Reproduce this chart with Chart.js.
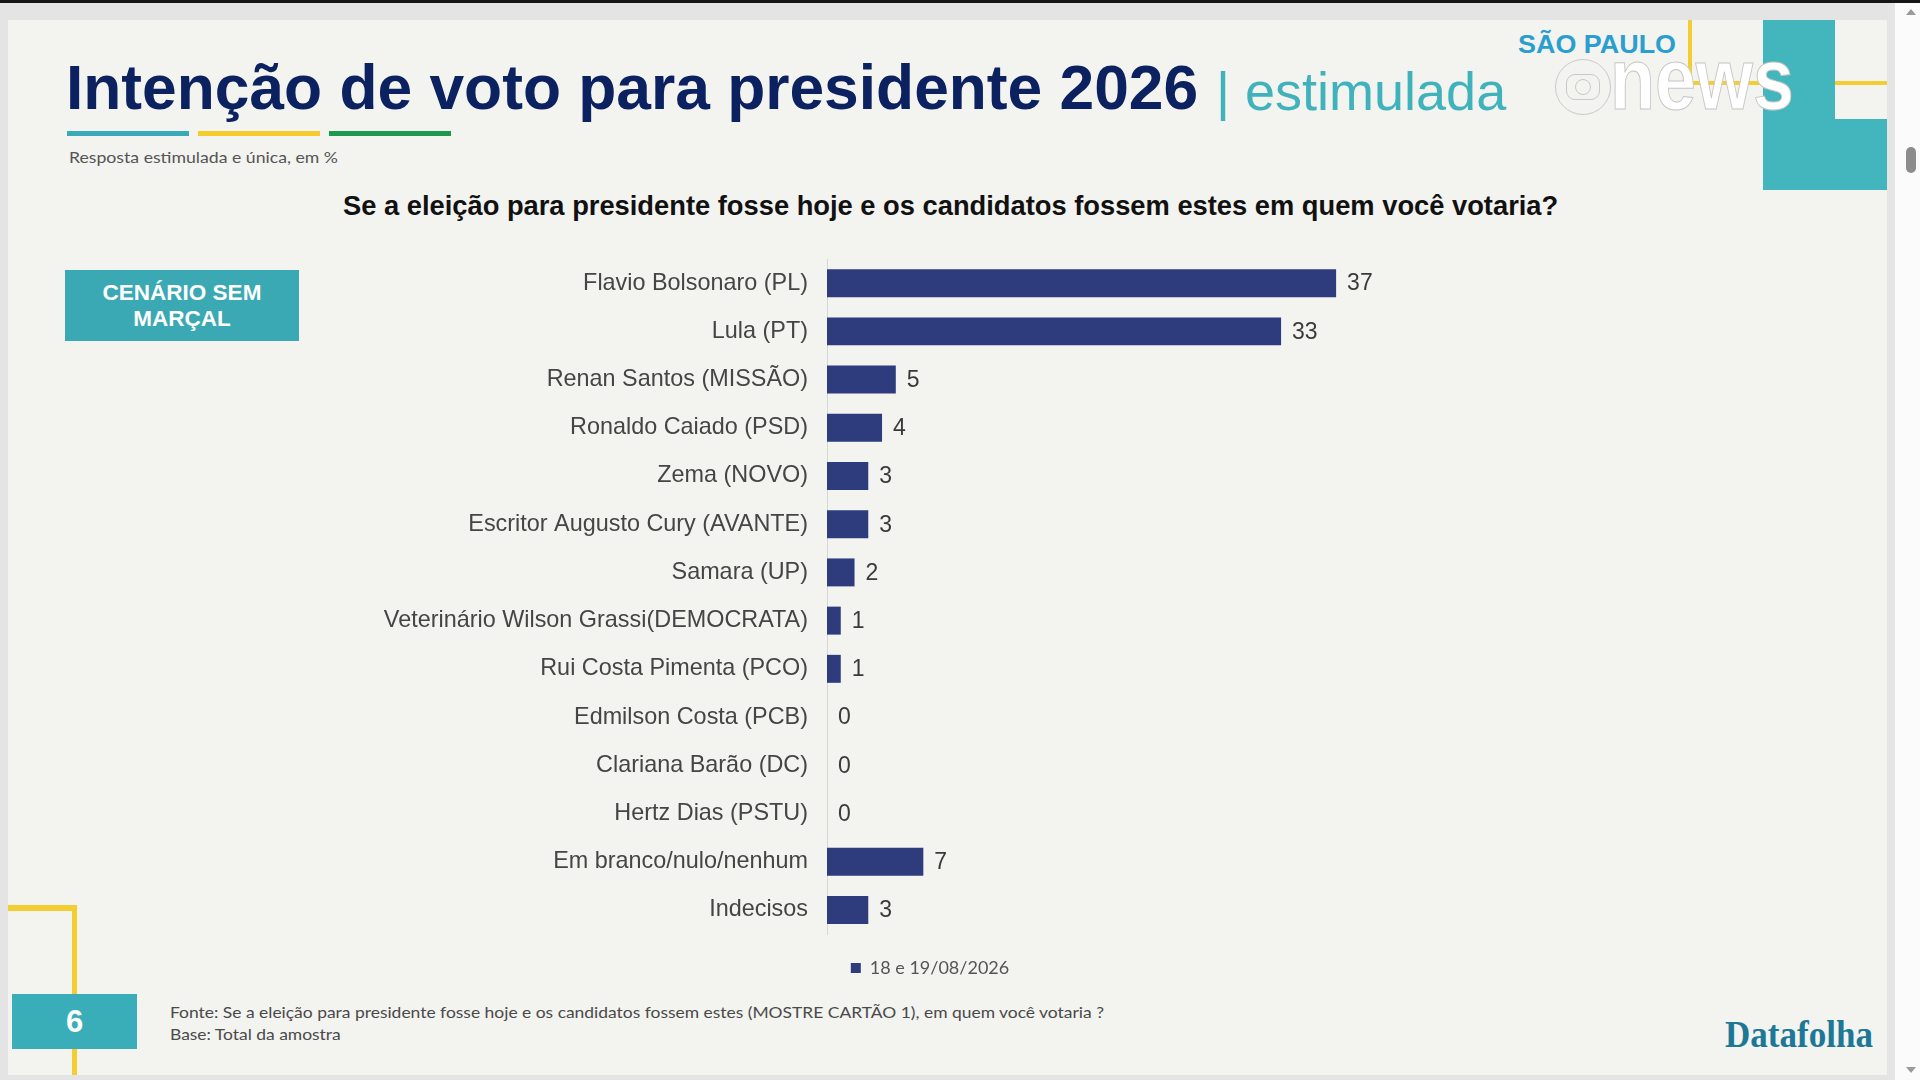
<!DOCTYPE html>
<html lang="pt-BR">
<head>
<meta charset="utf-8">
<title>Intenção de voto para presidente 2026 | estimulada</title>
<script src="https://cdn.jsdelivr.net/npm/chart.js@4.4.1/dist/chart.umd.min.js"></script>
<style>
  html, body { margin: 0; padding: 0; }
  body {
    width: 1920px; height: 1080px; position: relative; overflow: hidden;
    background: #e4e4e4;
    font-family: "Liberation Sans", Arial, sans-serif;
  }
  .abs { position: absolute; white-space: nowrap; }
  #topbar { left: 0; top: 0; width: 1920px; height: 3px; background: #151515; }
  #slide { left: 8px; top: 20px; width: 1879px; height: 1055px; background: #f3f3f0; }
  #scroll { left: 1895px; top: 3px; width: 25px; height: 1077px; background: #fbfbfb; }
  #thumb { left: 1906px; top: 147px; width: 10px; height: 26px; border-radius: 5px; background: #8c8c8c; }
  .arrow { width: 0; height: 0; border-left: 5px solid transparent; border-right: 5px solid transparent; }
  #up { left: 1906px; top: 9px; border-bottom: 6px solid #9a9a9a; }
  #down { left: 1906px; top: 1067px; border-top: 6px solid #9a9a9a; }

  #title { left: 66px; top: 57px; font-size: 62.3px; line-height: 62px; font-weight: bold; color: #0c2160; }
  #title2 { left: 1216px; top: 64px; font-size: 54px; line-height: 54px; color: #3fb2bc; }
  .stripe { top: 131px; width: 122px; height: 5px; }
  #subtitle { left: 69px; top: 148px; font-family: Lato, "Open Sans", sans-serif; font-size: 15px; line-height: 18px; color: #555; }
  #question { left: 343px; top: 192px; font-size: 27.3px; line-height: 27px; font-weight: bold; color: #111; }

  #scenario { left: 65px; top: 270px; width: 234px; height: 71px; background: #3aa9b3; color: #fff;
    font-weight: bold; font-size: 22.5px; line-height: 26px; text-align: center;
    display: flex; align-items: center; justify-content: center; }

  #saopaulo { left: 1518px; top: 32px; font-size: 25px; line-height: 25px; font-weight: bold; color: #2a9fcf; }
  #globe { left: 1555px; top: 59px; width: 56px; height: 56px; border-radius: 50%; border: 1px solid #c9c9c9; box-sizing: border-box; }
  #globe-rect { left: 1566px; top: 74px; width: 34px; height: 26px; border-radius: 9px; border: 1px solid #c9c9c9; box-sizing: border-box; }
  #globe-dot { left: 1575px; top: 79px; width: 16px; height: 16px; border-radius: 50%; border: 1px solid #c9c9c9; box-sizing: border-box; }
  #news { left: 1610px; top: 35px; font-size: 88px; line-height: 88px; font-weight: bold; color: #ffffff;
    -webkit-text-stroke: 1px #c6c6c6; }

  #chartbox { left: 345px; top: 234px; width: 1170px; height: 756px; }

  #footer1, #footer2 { left: 170px; font-family: Lato, "Open Sans", sans-serif; font-size: 15px; line-height: 18px; color: #4a4a4a; }
  #footer1 { top: 1003px; }
  #footer2 { top: 1025px; }
  #pagebox { left: 12px; top: 994px; width: 125px; height: 55px; background: #3aaeb8; color: #fff;
    font-weight: bold; font-size: 31px; line-height: 55px; text-align: center; }
  #datafolha { left: 1725px; top: 1016px; font-family: "Liberation Serif", "Times New Roman", serif;
    font-weight: bold; font-size: 37px; line-height: 37px; color: #1c7896; }
</style>
</head>
<body>
<div class="abs" id="topbar"></div>
<div class="abs" id="slide"></div>
<div class="abs" id="scroll"></div>
<div class="abs" id="thumb"></div>
<div class="abs arrow" id="up"></div>
<div class="abs arrow" id="down"></div>

<!-- top right decoration -->
<div class="abs" style="left:1688px;top:20px;width:4px;height:64px;background:#f4cd32"></div>
<div class="abs" style="left:1688px;top:81px;width:199px;height:4px;background:#f4cd32"></div>
<div class="abs" style="left:1763px;top:20px;width:72px;height:170px;background:#42b5bd"></div>
<div class="abs" style="left:1763px;top:119px;width:124px;height:71px;background:#42b5bd"></div>
<div class="abs" id="saopaulo">SÃO PAULO</div>
<div class="abs" id="globe"></div>
<div class="abs" id="globe-rect"></div>
<div class="abs" id="globe-dot"></div>
<div class="abs" id="news">news</div>

<!-- bottom left decoration -->
<div class="abs" style="left:8px;top:905px;width:69px;height:6px;background:#f4cd32"></div>
<div class="abs" style="left:72px;top:905px;width:5px;height:170px;background:#f4cd32"></div>
<div class="abs" id="pagebox">6</div>

<div class="abs" id="title">Intenção de voto para presidente 2026</div>
<div class="abs" id="title2">| estimulada</div>
<div class="abs stripe" style="left:67px;background:#39aab8"></div>
<div class="abs stripe" style="left:198px;background:#f5cc2c"></div>
<div class="abs stripe" style="left:329px;background:#1d9a4b"></div>
<div class="abs" id="subtitle">Resposta estimulada e única, em %</div>
<div class="abs" id="question">Se a eleição para presidente fosse hoje e os candidatos fossem estes em quem você votaria?</div>
<div class="abs" id="scenario">CENÁRIO SEM<br>MARÇAL</div>

<div class="abs" id="chartbox"><canvas id="votos" width="1170" height="756"></canvas></div>

<div class="abs" id="footer1">Fonte: Se a eleição para presidente fosse hoje e os candidatos fossem estes (MOSTRE CARTÃO 1), em quem você votaria ?</div>
<div class="abs" id="footer2">Base: Total da amostra</div>
<div class="abs" id="datafolha">Datafolha</div>

<script>
// Dados do gráfico
const candidates = [
  'Flavio Bolsonaro (PL)',
  'Lula (PT)',
  'Renan Santos (MISSÃO)',
  'Ronaldo Caiado (PSD)',
  'Zema (NOVO)',
  'Escritor Augusto Cury (AVANTE)',
  'Samara (UP)',
  'Veterinário Wilson Grassi(DEMOCRATA)',
  'Rui Costa Pimenta (PCO)',
  'Edmilson Costa (PCB)',
  'Clariana Barão (DC)',
  'Hertz Dias (PSTU)',
  'Em branco/nulo/nenhum',
  'Indecisos'
];
const votes = [37, 33, 5, 4, 3, 3, 2, 1, 1, 0, 0, 0, 7, 3];
const seriesLabel = '18 e 19/08/2026';

// stretch a text block to the width it has in the picture
function fitWidth(id, target) {
  const el = document.getElementById(id);
  const w = el.getBoundingClientRect().width;
  if (w > 0) {
    el.style.transformOrigin = 'left center';
    el.style.transform = 'scaleX(' + (target / w) + ')';
  }
}
fitWidth('subtitle', 269);
fitWidth('footer1', 934);
const f1 = document.getElementById('footer1').style.transform;
document.getElementById('footer2').style.transformOrigin = 'left center';
document.getElementById('footer2').style.transform = f1;
fitWidth('news', 184);
fitWidth('saopaulo', 158);
fitWidth('datafolha', 148);

// numbers at the end of each bar
const valueLabels = {
  id: 'valueLabels',
  afterDatasetsDraw(chart) {
    const ctx = chart.ctx;
    const meta = chart.getDatasetMeta(0);
    ctx.save();
    ctx.font = '23px "Liberation Sans", Arial, sans-serif';
    ctx.fillStyle = '#3a3a3a';
    ctx.textAlign = 'left';
    ctx.textBaseline = 'middle';
    meta.data.forEach((bar, i) => {
      ctx.fillText(String(votes[i]), bar.x + 11, bar.y + 1);
    });
    ctx.restore();
  }
};

new Chart(document.getElementById('votos'), {
  type: 'bar',
  data: {
    labels: candidates,
    datasets: [{
      label: seriesLabel,
      data: votes,
      backgroundColor: '#2e3b7d',
      categoryPercentage: 1,
      barPercentage: 0.58
    }]
  },
  options: {
    indexAxis: 'y',
    responsive: false,
    animation: false,
    devicePixelRatio: 1,
    layout: { padding: { top: 0, bottom: 3, left: 0, right: 0 } },
    scales: {
      x: { display: false, min: 0, max: 50 },
      y: {
        grid: { display: false },
        border: { display: true, color: '#d6d6d6', width: 1 },
        ticks: {
          color: '#454545',
          padding: 11,
          font: { size: 23.4, family: '"Liberation Sans", Arial, sans-serif' }
        },
        afterFit(scale) { scale.width = 482; }
      }
    },
    plugins: {
      legend: {
        position: 'bottom',
        labels: {
          boxWidth: 10,
          boxHeight: 10,
          padding: 25,
          color: '#555',
          font: { size: 18, family: 'Lato, "Open Sans", sans-serif' }
        }
      },
      tooltip: { enabled: false }
    }
  },
  plugins: [valueLabels]
});
</script>
</body>
</html>
